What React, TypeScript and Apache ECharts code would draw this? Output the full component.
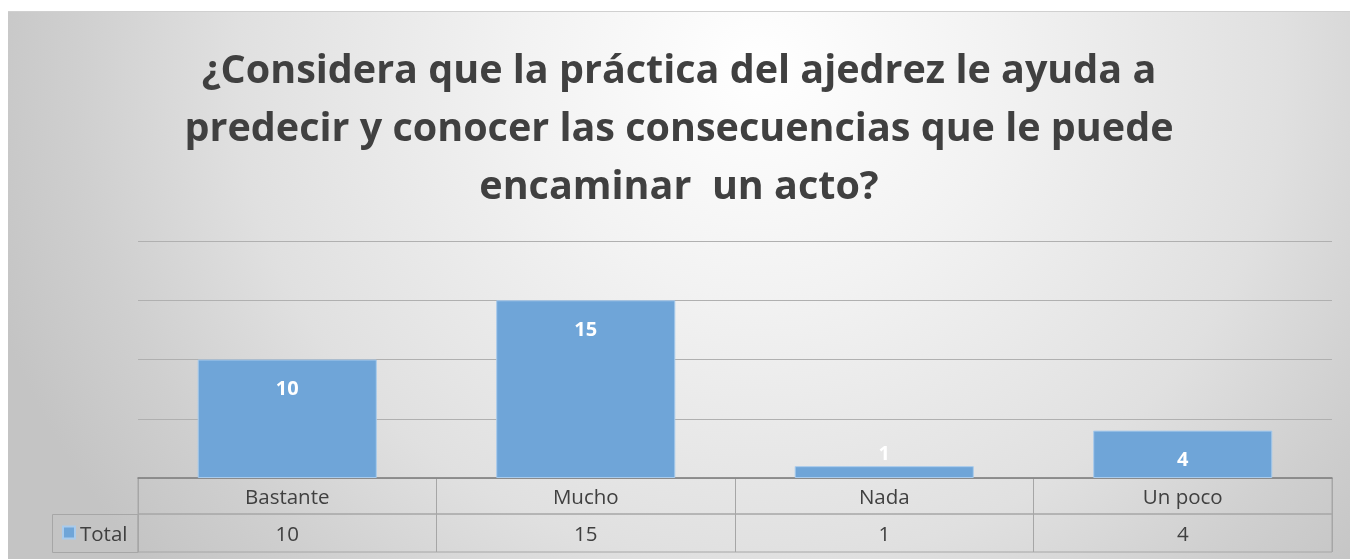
import React, { useEffect, useRef } from "react";
import * as echarts from "echarts";

const categories = ["Bastante", "Mucho", "Nada", "Un poco"];
const totals = [10, 15, 1, 4];
const seriesName = "Total";
const titleText =
  "¿Considera que la práctica del ajedrez le ayuda a\npredecir y conocer las consecuencias que le puede\nencaminar  un acto?";

const FONT = "'Open Sans', sans-serif";
const TEXT = "#404040";
const BORDER = "#a6a6a6";

export default function App() {
  const ref = useRef<HTMLDivElement>(null);
  useEffect(() => {
    if (!ref.current) return;
    const chart = echarts.init(ref.current, null, { renderer: "svg" });
    const left = 130;
    const right = 18;
    chart.setOption({
      animation: false,
      backgroundColor: "transparent",
      title: {
        text: titleText,
        left: "center",
        top: 22,
        textStyle: {
          fontFamily: FONT,
          fontWeight: "bold",
          fontSize: 39.5,
          lineHeight: 58,
          color: TEXT,
        },
      },
      legend: {
        data: [seriesName],
        left: 54,
        top: 510,
        padding: 0,
        icon: "rect",
        itemWidth: 12,
        itemHeight: 12,
        itemGap: 4,
        textStyle: { fontFamily: FONT, fontSize: 20.5, color: TEXT },
      },
      grid: [
        { left, right, top: 229, height: 237, show: false },
        { left, right, top: 466, height: 36, show: true, borderColor: BORDER, borderWidth: 1, backgroundColor: "transparent" },
        { left, right, top: 502, height: 38, show: true, borderColor: BORDER, borderWidth: 1, backgroundColor: "transparent" },
      ],
      graphic: [
        {
          type: "rect",
          shape: { x: 44.5, y: 502.5, width: 85.5, height: 38 },
          style: { fill: "none", stroke: BORDER, lineWidth: 1 },
          silent: true,
        },
      ],
      xAxis: [
        {
          gridIndex: 0,
          type: "category",
          data: categories,
          axisLine: { show: true, lineStyle: { color: "#7f7f7f", width: 1.5 } },
          axisTick: { show: false },
          axisLabel: { show: false },
        },
        {
          gridIndex: 1,
          type: "category",
          data: categories,
          axisLine: { show: false },
          axisTick: { show: false },
          splitLine: { show: true, interval: 0, lineStyle: { color: BORDER, width: 1 } },
          axisLabel: {
            interval: 0,
            margin: -18,
            verticalAlign: "middle",
            fontFamily: FONT,
            fontSize: 20.5,
            color: TEXT,
          },
        },
        {
          gridIndex: 2,
          type: "category",
          data: categories,
          axisLine: { show: false },
          axisTick: { show: false },
          splitLine: { show: true, interval: 0, lineStyle: { color: BORDER, width: 1 } },
          axisLabel: {
            interval: 0,
            margin: -19,
            verticalAlign: "middle",
            fontFamily: FONT,
            fontSize: 20.5,
            color: TEXT,
            formatter: (_v: string, i: number) => String(totals[i]),
          },
        },
      ],
      yAxis: [
        {
          gridIndex: 0,
          type: "value",
          min: 0,
          max: 20,
          interval: 5,
          axisLabel: { show: false },
          axisLine: { show: false },
          axisTick: { show: false },
          splitLine: { show: true, lineStyle: { color: "#b0b0b0", width: 1 } },
        },
        { gridIndex: 1, type: "value", show: false },
        { gridIndex: 2, type: "value", show: false },
      ],
      series: [
        {
          name: seriesName,
          type: "bar",
          xAxisIndex: 0,
          yAxisIndex: 0,
          barWidth: "60%",
          data: totals.map((v) =>
            v < 2 ? { value: v, label: { position: "top", distance: 4 } } : v
          ),
          itemStyle: { color: "#6fa5d8", borderColor: "#a9cbec", borderWidth: 1 },
          label: {
            show: true,
            position: "insideTop",
            distance: 18,
            color: "#ffffff",
            fontFamily: FONT,
            fontWeight: "bold",
            fontSize: 20,
          },
        },
      ],
    });
    return () => chart.dispose();
  }, []);
  return (
    <div
      ref={ref}
      style={{
        position: "fixed",
        left: 8,
        top: 11,
        right: 0,
        bottom: 0,
        borderTop: "1px solid #d0d0d0",
        background:
          "radial-gradient(ellipse 60% 140% at 56% 10%, #ffffff 0%, #f2f2f2 30%, #e0e0e0 65%, #cfcfcf 85%, #c4c4c4 100%)",
      }}
    />
  );
}
